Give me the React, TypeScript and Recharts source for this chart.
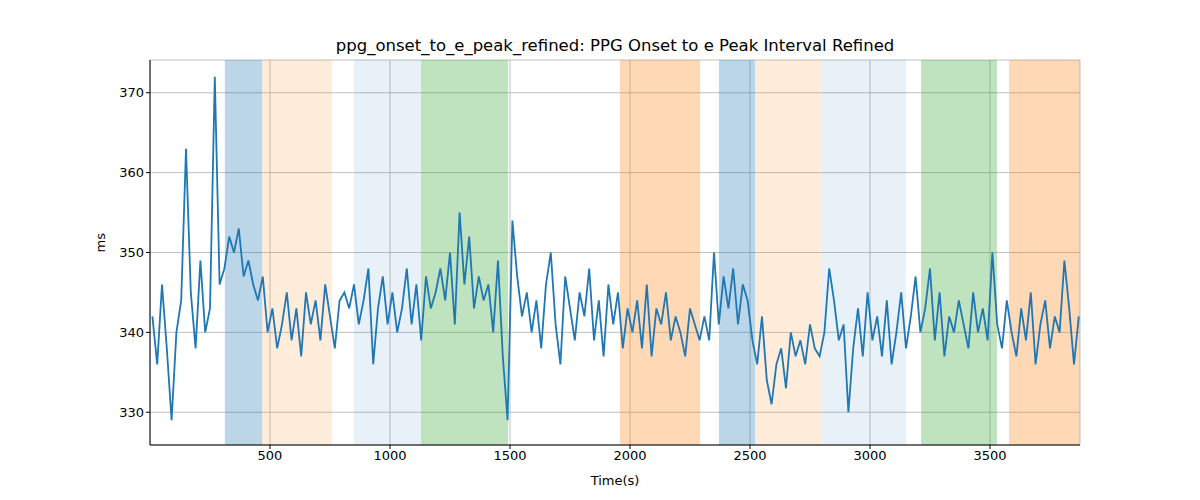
import React from 'react';
import { LineChart, Line, XAxis, YAxis, CartesianGrid, ReferenceArea } from 'recharts';

const values = [
  342, 336, 346, 338, 329, 340, 344, 363, 345, 338,
  349, 340, 343, 372, 346, 348, 352, 350, 353, 347,
  349, 346, 344, 347, 340, 343, 338, 341, 345, 339,
  343, 337, 345, 341, 344, 339, 346, 342, 338, 344,
  345, 343, 346, 341, 344, 348, 336, 343, 347, 341,
  345, 340, 343, 348, 341, 346, 339, 347, 343, 345,
  348, 344, 350, 341, 355, 346, 352, 343, 347, 344,
  346, 340, 349, 337, 329, 354, 347, 342, 345, 340,
  344, 338, 346, 350, 341, 336, 347, 343, 339, 345,
  342, 348, 339, 344, 337, 346, 341, 345, 338, 343,
  340, 344, 338, 346, 337, 343, 341, 345, 339, 342,
  340, 337, 343, 341, 339, 342, 339, 350, 341, 347,
  343, 348, 341, 346, 344, 339, 336, 342, 334, 331,
  336, 338, 333, 340, 337, 339, 336, 341, 338, 337,
  340, 348, 344, 339, 341, 330, 338, 343, 337, 345,
  339, 342, 337, 344, 336, 340, 345, 338, 342, 347,
  340, 343, 348, 339, 345, 337, 342, 340, 344, 341,
  338, 345, 340, 343, 339, 350, 341, 338, 344, 340,
  337, 343, 339, 345, 336, 341, 344, 338, 342, 340,
  349, 343, 336, 342,
];
const times = values.map((_, i) => 10 + i * 20);

// shaded intervals: [start, end, colour, opacity]
const spans: [number, number, string, number][] = [
  [312, 467, '#1f77b4', 0.3],
  [467, 758, '#ff7f0e', 0.15],
  [850, 1129, '#1f77b4', 0.1],
  [1129, 1492, '#2ca02c', 0.3],
  [1958, 2292, '#ff7f0e', 0.3],
  [2371, 2521, '#1f77b4', 0.3],
  [2521, 2800, '#ff7f0e', 0.15],
  [2800, 3150, '#1f77b4', 0.1],
  [3213, 3529, '#2ca02c', 0.3],
  [3579, 3875, '#ff7f0e', 0.3],
];

const xTicks = [500, 1000, 1500, 2000, 2500, 3000, 3500];
const yTicks = [330, 340, 350, 360, 370];

const data = times.map((t, i) => ({ t, v: values[i] }));

const App: React.FC = () => (
  <div style={{ position: 'absolute', left: 0, top: 0, width: 1200, height: 500, background: '#fff', fontFamily: 'DejaVu Sans' }}>
    <div style={{ position: 'absolute', top: 36, width: 1230, textAlign: 'center', fontSize: 16.5 }}>
      ppg_onset_to_e_peak_refined: PPG Onset to e Peak Interval Refined
    </div>
    <div style={{ position: 'absolute', top: 473, width: 1230, textAlign: 'center', fontSize: 13 }}>
      Time(s)
    </div>
    <LineChart width={1200} height={500} data={data} margin={{ top: 60, right: 120, left: 90, bottom: 25 }}>
      {spans.map(([a, b, c, o], i) => (
        <ReferenceArea key={i} x1={a} x2={b} fill={c} fillOpacity={o} stroke="none" ifOverflow="hidden" />
      ))}
      <CartesianGrid stroke="#b0b0b0" strokeWidth={0.8} />
      <XAxis dataKey="t" type="number" domain={[0, 3875]} ticks={xTicks} allowDataOverflow
        tick={{ fontSize: 13, fill: '#000' }} stroke="#000" tickSize={4} />
      <YAxis type="number" domain={[325.9, 374.1]} ticks={yTicks} allowDataOverflow width={60}
        tick={{ fontSize: 13, fill: '#000' }} stroke="#000" tickSize={4}
        label={{ value: 'ms', angle: -90, position: 'insideLeft', offset: 10, fontSize: 13, fill: '#000' }} />
      <Line dataKey="v" stroke="#1f77b4" strokeWidth={1.8} dot={false} isAnimationActive={false} />
    </LineChart>
  </div>
);

export default App;
